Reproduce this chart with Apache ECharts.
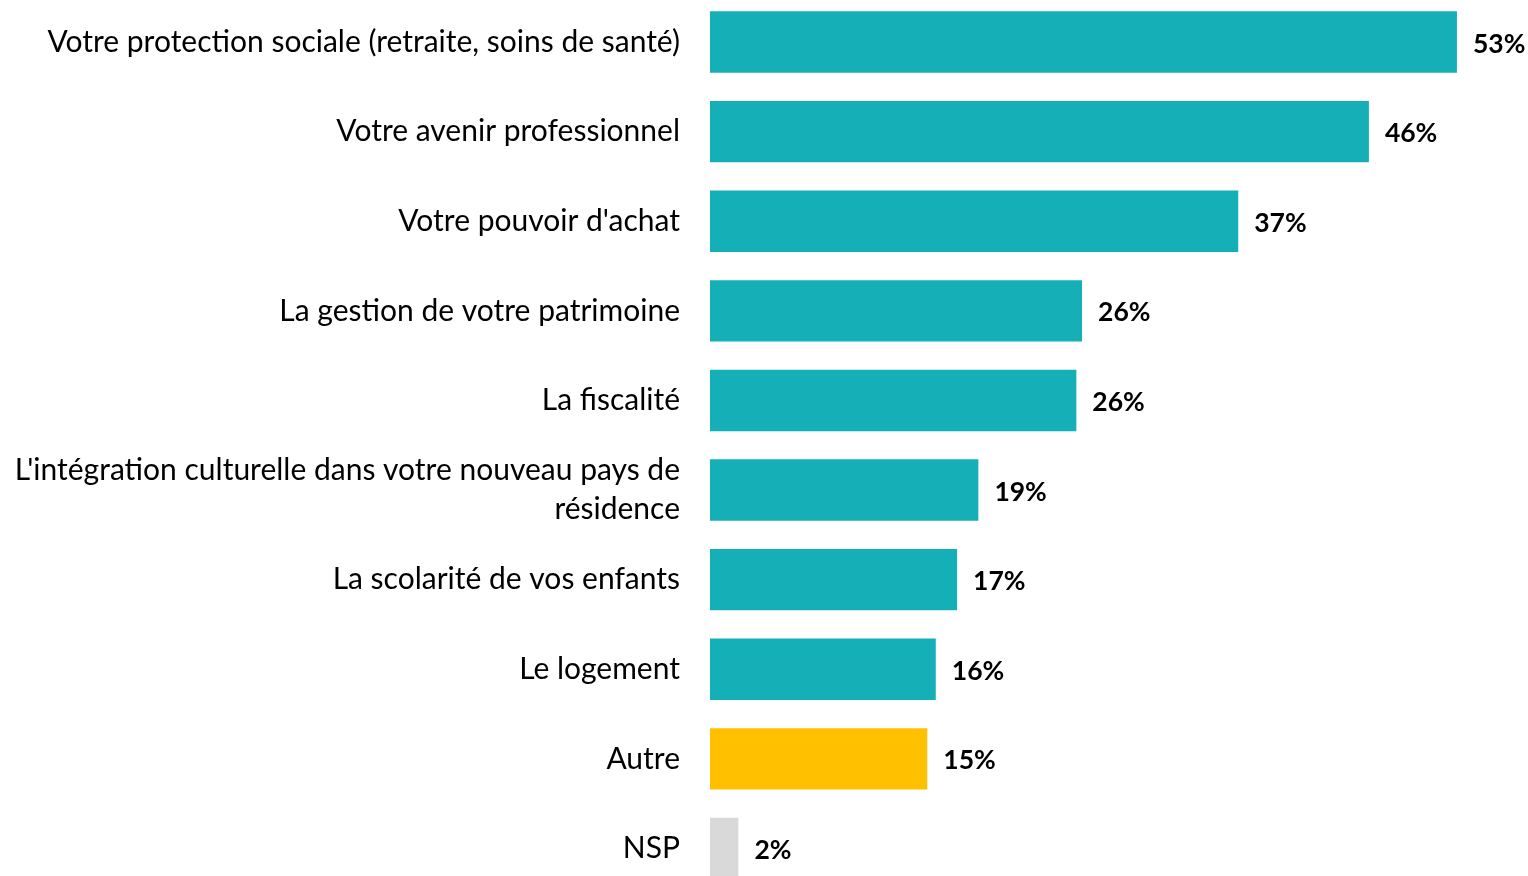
<!DOCTYPE html>
<html>
<head>
<meta charset="utf-8">
<script src="https://cdn.jsdelivr.net/npm/echarts@6/dist/echarts.min.js"></script>
<style>html,body{margin:0;padding:0;background:#fff}#chart{width:1528px;height:876px}</style>
</head>
<body>
<div id="chart"></div>
<script>
// categories top -> bottom
const categories = [
  'Votre protection sociale (retraite, soins de santé)',
  'Votre avenir professionnel',
  "Votre pouvoir d'achat",
  'La gestion de votre patrimoine',
  'La fiscalité',
  "L'intégration culturelle dans votre nouveau pays de\nrésidence",
  'La scolarité de vos enfants',
  'Le logement',
  'Autre',
  'NSP'
];
const values = [52.6, 46.4, 37.2, 26.2, 25.8, 18.9, 17.4, 15.9, 15.3, 2.0];
const barColors = ['#14AFB7','#14AFB7','#14AFB7','#14AFB7','#14AFB7','#14AFB7','#14AFB7','#14AFB7','#FFC000','#D9D9D9'];

const FONT = 'Lato, "Open Sans", sans-serif';
const chart = echarts.init(document.getElementById('chart'));
chart.setOption({
  animation: false,
  // band ~89.6px per category, first bar centred at y=42; last row runs off the bottom
  grid: { left: 710, width: 781, top: -2.8, height: 896.1, containLabel: false, outerBoundsMode: 'none' },
  xAxis: { type: 'value', min: 0, max: 55, show: false },
  yAxis: {
    type: 'category',
    inverse: true,
    data: categories,
    axisLine: { show: false },
    axisTick: { show: false },
    axisLabel: {
      margin: 30,
      color: '#000',
      fontFamily: FONT,
      fontSize: 30,
      lineHeight: 39,
      align: 'right',
      padding: [3, 0, 0, 0]
    }
  },
  series: [{
    type: 'bar',
    barWidth: 61.4,
    data: values.map((v, i) => ({ value: v, itemStyle: { color: barColors[i] } })),
    label: {
      show: true,
      position: 'right',
      distance: 16,
      offset: [0, 2],
      color: '#000',
      fontFamily: FONT,
      fontWeight: 'bold',
      fontSize: 26.5,
      formatter: p => Math.round(p.value) + '%'
    }
  }]
});
</script>
</body>
</html>
